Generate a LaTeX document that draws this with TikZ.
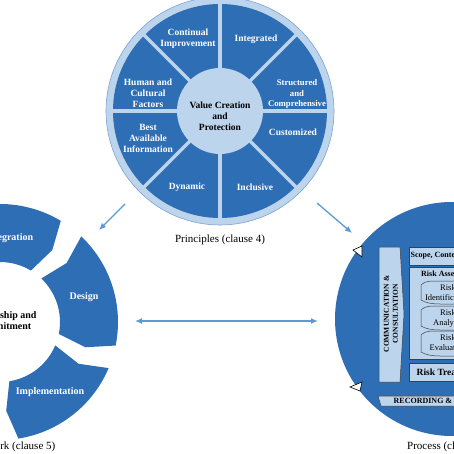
\documentclass[tikz,border=0pt]{standalone}
\usepackage{fontspec}
\setmainfont{Liberation Serif}
\usetikzlibrary{arrows.meta}
\definecolor{dk}{RGB}{46,110,180}
\definecolor{lt}{RGB}{188,212,236}
\definecolor{ltedge}{RGB}{125,163,212}
\definecolor{arr}{RGB}{91,155,213}
\begin{document}
\begin{tikzpicture}[x=1pt,y=-1pt,
  wlab/.style={text=white, font=\bfseries\fontsize{9.5}{11}\selectfont, align=center, inner sep=0pt},
  clab/.style={text=black, font=\bfseries\fontsize{9.5}{11}\selectfont, align=center, inner sep=0pt},
  capt/.style={font=\fontsize{11}{13}\selectfont, inner sep=0pt},
  pbox/.style={fill=lt, draw=black!75, line width=0.5pt},
  ptxt/.style={font=\bfseries\fontsize{8}{9.5}\selectfont, inner sep=0pt, anchor=west},
  rtxt/.style={font=\fontsize{8.5}{10}\selectfont, align=center, inner sep=0pt},
  link/.style={draw=arr, line width=1.3pt, -{Latex[length=7pt,width=6pt]}},
  tri/.style={fill=white, draw=black, line width=0.6pt}]
\clip (0,0) rectangle (454,454);
\useasboundingbox (0,0) rectangle (454,454);
\fill[white] (0,0) rectangle (454,454);

% ---- Principles wheel
\coordinate (P) at (220,111);
\fill[lt] (P) circle[radius=114];
\draw[ltedge, line width=0.6pt] (P) circle[radius=114];
\fill[dk] (P) circle[radius=107];
\foreach \a in {0,45,...,315} \draw[lt, line width=3.5pt] (P) -- ++(\a:108);
\fill[lt] (P) circle[radius=43];
\node[wlab] (ci) at (188,38.5) {Continual\\Improvement};
\node[wlab] (ig) at (256,39) {Integrated};
\node[wlab, font=\bfseries\fontsize{8.7}{10.5}\selectfont] (sc) at (297,94) {Structured\\and\\Comprehensive};
\node[wlab] (cu) at (293,132) {Customized};
\node[wlab] (in) at (255,187) {Inclusive};
\node[wlab] (dy) at (187,187) {Dynamic};
\node[wlab] (ba) at (148,138) {Best\\Available\\Information};
\node[wlab] (hc) at (148,93) {Human and\\Cultural\\Factors};
\node[clab] (vc) at (220,116) {Value Creation\\and\\Protection};
\node[capt] (pr) at (220,240) {Principles (clause 4)};

% ---- Framework wheel
\begin{scope}[shift={(0,322)}]
\foreach \c in {88,17.5,-52} {
  \fill[dk] ({-(\c+29)}:118) arc[start angle={-(\c+29)}, end angle={-(\c-29)}, radius=118]
    -- ({-(\c-34)}:89) -- ({-(\c-29)}:60)
    arc[start angle={-(\c-29)}, end angle={-(\c+29)}, radius=60]
    -- ({-(\c+24)}:89) -- cycle;
}
\end{scope}
\node[wlab, font=\bfseries\fontsize{10}{11}\selectfont] (itg) at (9,238) {Integration};
\node[wlab, font=\bfseries\fontsize{10}{11}\selectfont] (des) at (84,297) {Design};
\node[wlab, font=\bfseries\fontsize{10}{11}\selectfont] (imp) at (50,392) {Implementation};
\node[clab, font=\bfseries\fontsize{10}{11}\selectfont] (lc) at (3,320.5) {Leadership and\\Commitment};
\node[capt, anchor=east] (fw) at (55.5,447) {Framework (clause 5)};

% ---- Process circle
\coordinate (Q) at (452,319);
\fill[dk] (Q) circle[radius=117];
\filldraw[tri] (353,250) -- (362,246) -- (362,257) -- cycle;
\filldraw[tri] (350,387) -- (362,382) -- (360,391) -- cycle;
\filldraw[pbox] (379,247) -- (400,247) -- (404,314) -- (400,382) -- (379,382) -- cycle;
\node[rotate=90, font=\bfseries\fontsize{7.5}{9}\selectfont, align=center, inner sep=0pt] (cc) at (391,314) {COMMUNICATION \&\\CONSULTATION};
\filldraw[pbox] (409,247) rectangle (520,265);
\node[ptxt] (sco) at (410.5,256) {Scope, Context, Criteria};
\filldraw[pbox] (409,267) rectangle (520,359);
\node[ptxt] (ra) at (421,273.5) {Risk Assessment};
\foreach \t/\b in {281/304, 306/330, 331/356} {
  \filldraw[pbox] (421,\t+4) .. controls (424,\t+1) and (428,\t) .. (434,\t) -- (520,\t) -- (520,\b)
    -- (440,\b) .. controls (432,\b) and (426,\b-1) .. (421,\b-4) -- cycle;
}
\node[rtxt] (rid) at (448,292.5) {Risk\\Identification};
\node[rtxt] (ran) at (448,318) {Risk\\Analysis};
\node[rtxt] (rev) at (448,343) {Risk\\Evaluation};
\filldraw[pbox] (409,363) rectangle (520,381);
\node[ptxt, font=\bfseries\fontsize{9.5}{11}\selectfont] (rt) at (416.5,372) {Risk Treatment};
\filldraw[pbox] (378,396) -- (520,396) -- (520,406) -- (381,406) -- cycle;
\node[ptxt] (rr) at (393.5,401.3) {RECORDING \& REPORTING};
\node[capt, anchor=west] (pc) at (407,447) {Process (clause 6)};

% ---- connectors
\coordinate (a1s) at (125,204);
\coordinate (a1e) at (99,230);
\coordinate (a2s) at (317,203);
\coordinate (a2e) at (352,233);
\coordinate (b1) at (135,321);
\coordinate (b2) at (318,321);
\draw[link] (a1s) -- (a1e);
\draw[link] (a2s) -- (a2e);
\draw[link, {Latex[length=7pt,width=6pt]}-{Latex[length=7pt,width=6pt]}] (b1) -- (b2);
\end{tikzpicture}
\end{document}
